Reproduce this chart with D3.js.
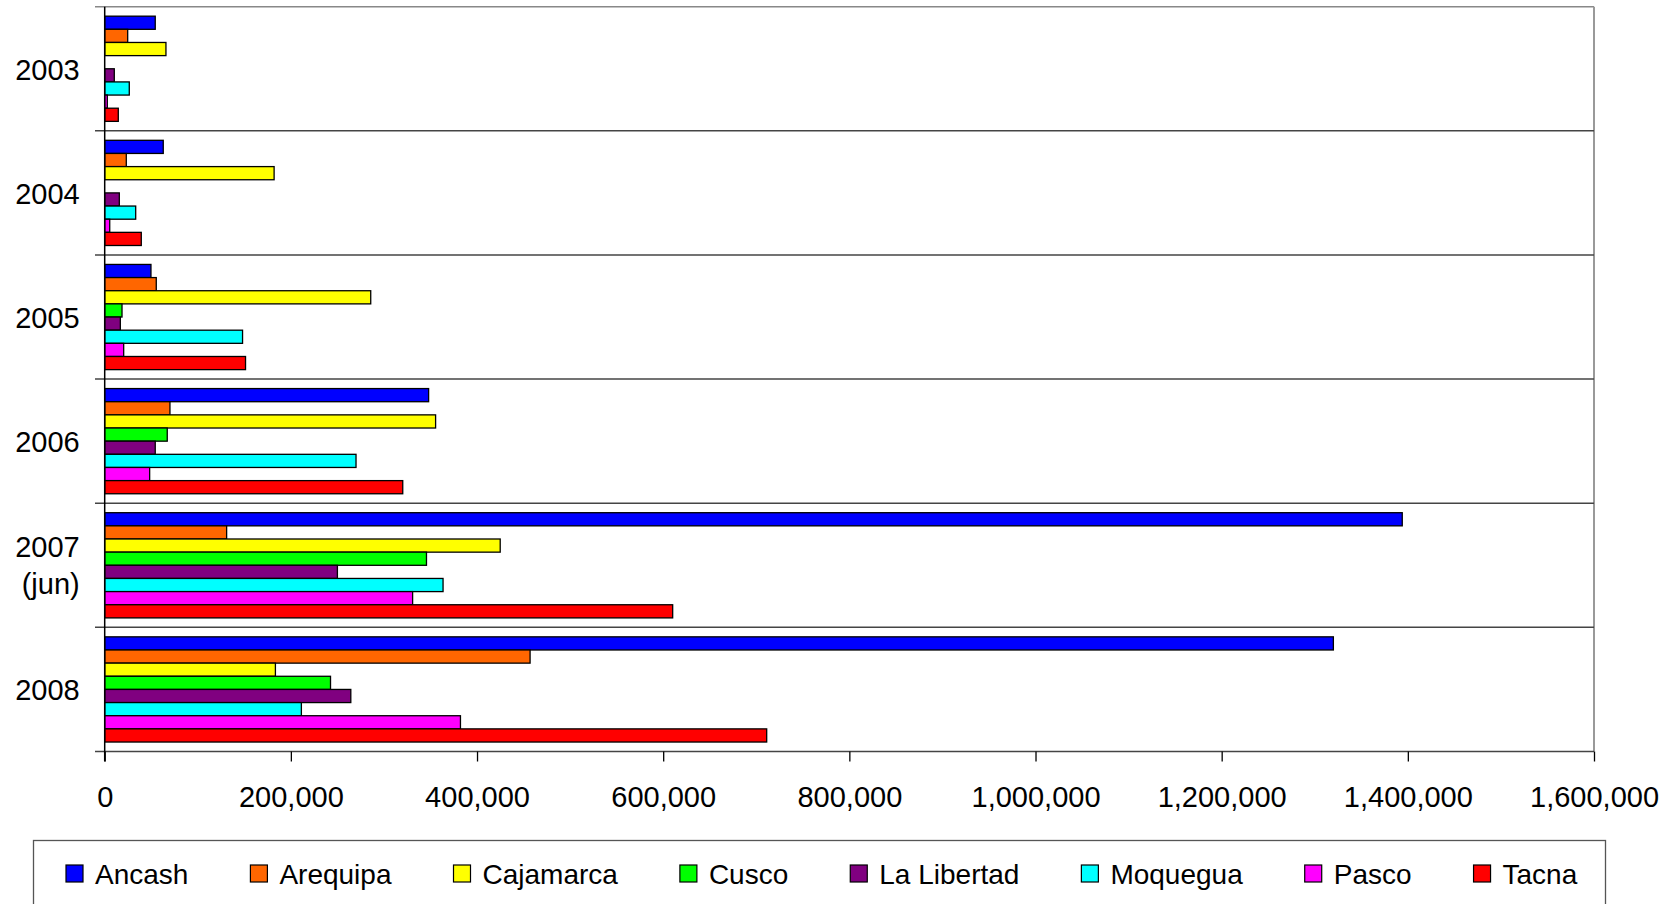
<!DOCTYPE html>
<html>
<head>
<meta charset="utf-8">
<script src="https://cdn.jsdelivr.net/npm/d3@7"></script>
<style>
body { margin: 0; background: #fff; }
svg text { font-family: "Liberation Sans", Arial, sans-serif; fill: #000; }
</style>
</head>
<body>
<svg></svg>
<script>
let years = ['2003', '2004', '2005', '2006', '2007 (jun)', '2008'];
let regions = ['Ancash', 'Arequipa', 'Cajamarca', 'Cusco', 'La Libertad', 'Moquegua', 'Pasco', 'Tacna'];
let colors = ['#0000ff', '#ff6600', '#ffff00', '#00ff00', '#800080', '#00ffff', '#ff00ff', '#ff0000'];

// values per region, one per year (2003 ... 2008)
let ancash     = [54300, 62900, 49700, 348000, 1394000, 1320000];
let arequipa   = [24700, 23200, 55400, 70100, 131000, 457000];
let cajamarca  = [65800, 182000, 285800, 355500, 424900, 183400];
let cusco      = [null, null, 18600, 67200, 345700, 242600];
let laLibertad = [10300, 15700, 16800, 54300, 250000, 264400];
let moquegua   = [26400, 33300, 148100, 270000, 363500, 211300];
let pasco      = [2800, 5400, 20400, 48300, 330800, 382200];
let tacna      = [14600, 39300, 151300, 320200, 610200, 711200];

let series = [ancash, arequipa, cajamarca, cusco, laLibertad, moquegua, pasco, tacna];
let xTicks = [0, 200000, 400000, 600000, 800000, 1000000, 1200000, 1400000, 1600000];

let width = 1675;
let height = 904;
let plotLeft = 104.7;
let plotRight = 1594;
let plotTop = 6.7;
let plotBottom = 751.5;

let svg = d3.select('svg')
  .attr('width', width)
  .attr('height', height)

let xScale = d3.scaleLinear()
  .domain([0, 1600000])
  .range([plotLeft, plotRight])

let yScale = d3.scaleBand()
  .domain(years)
  .range([plotTop, plotBottom])

let ySub = d3.scaleBand()
  .domain(regions)
  .range([0, yScale.bandwidth()])
  .paddingOuter(0.72)

// plot frame: top and right border
svg.append('line')
  .attr('x1', 95).attr('x2', plotRight)
  .attr('y1', plotTop).attr('y2', plotTop)
  .attr('stroke', '#888').attr('stroke-width', 1.5)
svg.append('line')
  .attr('x1', plotRight).attr('x2', plotRight)
  .attr('y1', plotTop).attr('y2', plotBottom)
  .attr('stroke', '#999').attr('stroke-width', 2)

// category separators
let bounds = years.slice(1).map(d => yScale(d)).concat([plotBottom]);
svg.selectAll('.sep')
  .data(bounds)
  .enter()
  .append('line')
  .attr('class', 'sep')
  .attr('x1', 95).attr('x2', plotRight)
  .attr('y1', d => d).attr('y2', d => d)
  .attr('stroke', '#444').attr('stroke-width', 1.5)

// bars
let cells = [];
years.forEach((year, i) => {
  regions.forEach((region, j) => {
    if (series[j][i] != null) {
      cells.push({ year: year, region: region, color: colors[j], value: series[j][i] })
    }
  })
})

svg.selectAll('.bar')
  .data(cells)
  .enter()
  .append('rect')
  .attr('class', 'bar')
  .attr('x', xScale(0))
  .attr('y', d => yScale(d.year) + ySub(d.region))
  .attr('width', d => xScale(d.value) - xScale(0))
  .attr('height', ySub.bandwidth())
  .attr('fill', d => d.color)
  .attr('stroke', '#000')
  .attr('stroke-width', 1.3)

// x axis
let xAxis = d3.axisBottom(xScale)
  .tickValues(xTicks)
  .tickSize(10)
  .tickPadding(25)
  .tickFormat(d3.format(','))

let xg = svg.append('g')
  .attr('transform', `translate(0, ${plotBottom})`)
  .call(xAxis)
xg.select('.domain').remove()
xg.selectAll('line').attr('stroke', '#000').attr('stroke-width', 1.3)
xg.selectAll('text').style('font-size', '29px')

// y axis
let yAxis = d3.axisLeft(yScale)
  .tickSize(0)
  .tickPadding(25)

let yg = svg.append('g')
  .attr('transform', `translate(${plotLeft}, 0)`)
  .call(yAxis)
yg.select('.domain').remove()
yg.selectAll('text').style('font-size', '29px').attr('dy', '0.38em')
yg.selectAll('text')
  .filter(d => d.indexOf(' ') > 0)
  .each(function (d) {
    let parts = d.split(' ');
    let t = d3.select(this).text(null).attr('dy', null);
    t.append('tspan').attr('x', -25).attr('y', -8).text(parts[0]);
    t.append('tspan').attr('x', -25).attr('y', 29).text(parts[1]);
  })

svg.append('line')
  .attr('x1', plotLeft).attr('x2', plotLeft)
  .attr('y1', plotTop).attr('y2', plotBottom + 10)
  .attr('stroke', '#000').attr('stroke-width', 1.5)

// legend
svg.append('rect')
  .attr('x', 33.5).attr('y', 840.5)
  .attr('width', 1572).attr('height', 90)
  .attr('fill', 'none')
  .attr('stroke', '#555')
  .attr('stroke-width', 1.3)

let cursor = 66;
regions.forEach((region, j) => {
  let g = svg.append('g').attr('transform', `translate(${cursor}, 0)`);
  g.append('rect')
    .attr('x', 0).attr('y', 865)
    .attr('width', 17).attr('height', 17)
    .attr('fill', colors[j])
    .attr('stroke', '#000')
    .attr('stroke-width', 1.2)
  let label = g.append('text')
    .attr('x', 29).attr('y', 884)
    .style('font-size', '28px')
    .text(region)
  cursor += 29 + label.node().getComputedTextLength() + 62;
})
</script>
</body>
</html>
